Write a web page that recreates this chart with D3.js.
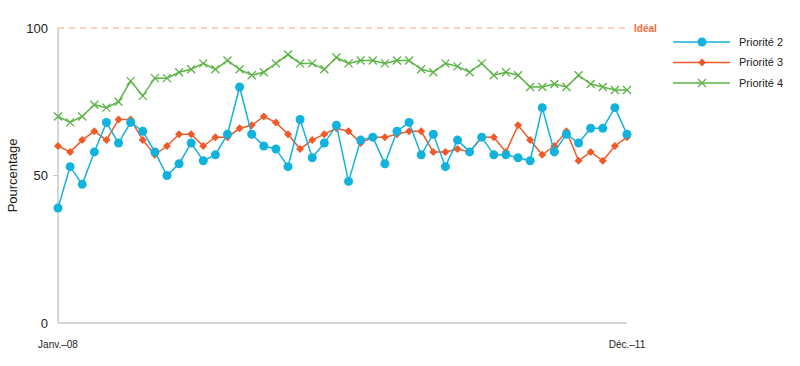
<!DOCTYPE html>
<html>
<head>
<meta charset="utf-8">
<script src="https://cdn.jsdelivr.net/npm/d3@7"></script>
<style>
  body { margin: 0; background: #fff; }
  svg { font-family: "Liberation Sans", Arial, sans-serif; }
</style>
</head>
<body>
<div id="chart"></div>
<script>
// Monthly values, Jan 2008 to Dec 2011 (48 months)
const months = d3.range(48);
const priorite2 = [39, 53, 47, 58, 68, 61, 68, 65, 58, 50, 54, 61, 55, 57, 64, 80,
                   64, 60, 59, 53, 69, 56, 61, 67, 48, 62, 63, 54, 65, 68, 57, 64,
                   53, 62, 58, 63, 57, 57, 56, 55, 73, 58, 64, 61, 66, 66, 73, 64];
const priorite3 = [60, 58, 62, 65, 62, 69, 69, 62, 57, 60, 64, 64, 60, 63, 63, 66,
                   67, 70, 68, 64, 59, 62, 64, 66, 65, 61, 63, 63, 64, 65, 65, 58,
                   58, 59, 58, 63, 63, 58, 67, 62, 57, 60, 65, 55, 58, 55, 60, 63];
const priorite4 = [70, 68, 70, 74, 73, 75, 82, 77, 83, 83, 85, 86, 88, 86, 89, 86,
                   84, 85, 88, 91, 88, 88, 86, 90, 88, 89, 89, 88, 89, 89, 86, 85,
                   88, 87, 85, 88, 84, 85, 84, 80, 80, 81, 80, 84, 81, 80, 79, 79];
const yTicks = [0, 50, 100];
const xLabels = ["Janv.\u201308", "D\u00e9c.\u201311"];
const ideal = 100;

const series = [
  { name: "Priorit\u00e9 2", values: priorite2, color: "#12b2de", marker: "circle" },
  { name: "Priorit\u00e9 3", values: priorite3, color: "#ef5a28", marker: "diamond" },
  { name: "Priorit\u00e9 4", values: priorite4, color: "#5cb346", marker: "cross" }
];

const width = 800, height = 366;
const margin = { left: 58, right: 173, top: 28, bottom: 43 };

const svg = d3.select("#chart").append("svg")
    .attr("width", width)
    .attr("height", height);

const x = d3.scaleLinear().domain([0, 47]).range([margin.left, width - margin.right]);
const y = d3.scaleLinear().domain([0, 100]).range([height - margin.bottom, margin.top]);

// Axes
svg.append("line")
    .attr("x1", x(0)).attr("x2", x(0))
    .attr("y1", y(100)).attr("y2", y(0))
    .attr("stroke", "#c8c8c8").attr("stroke-width", 1.5);
svg.append("line")
    .attr("x1", x(0)).attr("x2", x(47))
    .attr("y1", y(0)).attr("y2", y(0))
    .attr("stroke", "#c8c8c8").attr("stroke-width", 1.5);

svg.selectAll(".ytick").data([50]).enter().append("line")
    .attr("x1", x(0) - 5).attr("x2", x(0))
    .attr("y1", d => y(d)).attr("y2", d => y(d))
    .attr("stroke", "#c8c8c8");

svg.selectAll(".ylabel").data(yTicks).enter().append("text")
    .attr("x", x(0) - 10)
    .attr("y", d => y(d))
    .attr("dy", "0.35em")
    .attr("text-anchor", "end")
    .attr("font-size", 13)
    .attr("fill", "#222")
    .text(d => d);

svg.append("text")
    .attr("transform", `translate(17,${y(50)}) rotate(-90)`)
    .attr("text-anchor", "middle")
    .attr("font-size", 13)
    .attr("fill", "#222")
    .text("Pourcentage");

svg.selectAll(".xlabel").data(xLabels).enter().append("text")
    .attr("x", (d, i) => i === 0 ? x(0) : x(47))
    .attr("y", 348)
    .attr("text-anchor", "middle")
    .attr("font-size", 10)
    .attr("fill", "#222")
    .text(d => d);

// Ideal line
svg.append("line")
    .attr("x1", x(0)).attr("x2", x(47) + 2)
    .attr("y1", y(ideal)).attr("y2", y(ideal))
    .attr("stroke", "#f5a589").attr("stroke-width", 1)
    .attr("stroke-dasharray", "6,5");
svg.append("text")
    .attr("x", x(47) + 7).attr("y", y(ideal))
    .attr("dy", "0.35em")
    .attr("font-size", 10).attr("font-weight", "bold")
    .attr("fill", "#f06a3c")
    .text("Id\u00e9al");

const line = d3.line().x((d, i) => x(i)).y(d => y(d));

function drawMarker(g, type, color) {
  if (type === "circle") {
    g.append("circle").attr("r", 4.5).attr("fill", color);
  } else if (type === "diamond") {
    g.append("path").attr("d", "M0,-4L4,0L0,4L-4,0Z").attr("fill", color);
  } else {
    g.append("path").attr("d", "M-4,-4L4,4M-4,4L4,-4")
      .attr("stroke", color).attr("stroke-width", 1.3).attr("fill", "none");
  }
}

// Draw green first so blue sits on top
[series[2], series[1], series[0]].forEach(s => {
  svg.append("path")
      .datum(s.values)
      .attr("fill", "none")
      .attr("stroke", s.color)
      .attr("stroke-width", 1.5)
      .attr("d", line);
  svg.selectAll(null).data(s.values).enter().append("g")
      .attr("transform", (d, i) => `translate(${x(i)},${y(d)})`)
      .each(function() { drawMarker(d3.select(this), s.marker, s.color); });
});

// Legend
const legend = svg.append("g").attr("transform", "translate(673,42)");
series.forEach((s, i) => {
  const g = legend.append("g").attr("transform", `translate(0,${i * 20.5})`);
  g.append("line").attr("x1", 0).attr("x2", 57).attr("stroke", s.color).attr("stroke-width", 1.5);
  drawMarker(g.append("g").attr("transform", "translate(29,0)"), s.marker, s.color);
  g.append("text").attr("x", 66).attr("dy", "0.35em")
      .attr("font-size", 11).attr("fill", "#222").text(s.name);
});
</script>
</body>
</html>
